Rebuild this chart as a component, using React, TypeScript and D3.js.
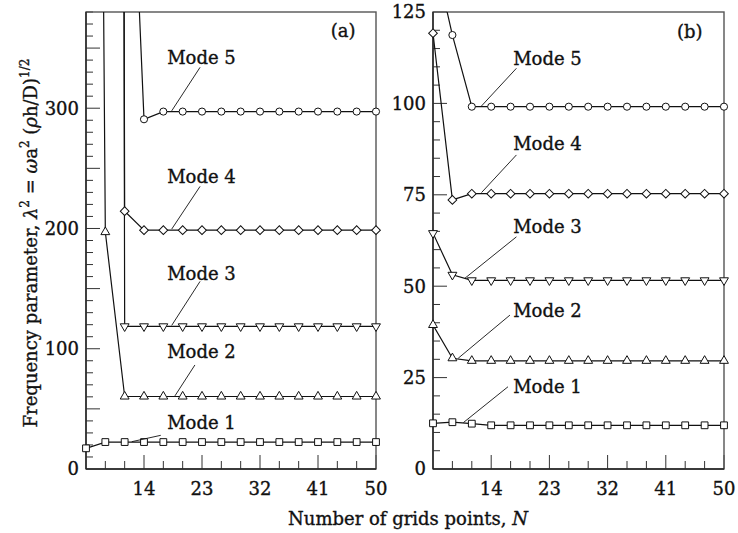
import React from 'react';
import * as d3 from 'd3';

// grid sizes N used in the convergence study
const N_POINTS = [5, 8, 11, 14, 17, 20, 23, 26, 29, 32, 35, 38, 41, 44, 47, 50];
const N_LABELS = [14, 23, 32, 41, 50];

// panel (a) (off-scale starts kept large)
const MODE1_A = [17.2, 22.4, 22.4, 22.4, 22.4, 22.4, 22.4, 22.4, 22.4, 22.4, 22.4, 22.4, 22.4, 22.4, 22.4, 22.4];
const MODE2_A = [2300, 197, 60.3, 60.3, 60.3, 60.3, 60.3, 60.3, 60.3, 60.3, 60.3, 60.3, 60.3, 60.3, 60.3, 60.3];
const MODE3_A = [null, 8000, 118.6, 118.6, 118.6, 118.6, 118.6, 118.6, 118.6, 118.6, 118.6, 118.6, 118.6, 118.6, 118.6, 118.6];
const MODE4_A = [null, 6500, 214.4, 198.6, 198.6, 198.6, 198.6, 198.6, 198.6, 198.6, 198.6, 198.6, 198.6, 198.6, 198.6, 198.6];
const MODE5_A = [null, null, 666, 290.8, 297.2, 297.2, 297.2, 297.2, 297.2, 297.2, 297.2, 297.2, 297.2, 297.2, 297.2, 297.2];

// panel (b)
const MODE1_B = [12.5, 12.8, 12.4, 11.95, 11.95, 11.95, 11.95, 11.95, 11.95, 11.95, 11.95, 11.95, 11.95, 11.95, 11.95, 11.95];
const MODE2_B = [39.4, 30.3, 29.6, 29.6, 29.6, 29.6, 29.6, 29.6, 29.6, 29.6, 29.6, 29.6, 29.6, 29.6, 29.6, 29.6];
const MODE3_B = [64.5, 53.1, 51.6, 51.6, 51.6, 51.6, 51.6, 51.6, 51.6, 51.6, 51.6, 51.6, 51.6, 51.6, 51.6, 51.6];
const MODE4_B = [119.2, 73.6, 75.3, 75.3, 75.3, 75.3, 75.3, 75.3, 75.3, 75.3, 75.3, 75.3, 75.3, 75.3, 75.3, 75.3];
const MODE5_B = [142, 118.7, 99.1, 99.1, 99.1, 99.1, 99.1, 99.1, 99.1, 99.1, 99.1, 99.1, 99.1, 99.1, 99.1, 99.1];

const Y_LABELS_A = [0, 100, 200, 300];
const Y_LABELS_B = [0, 25, 50, 75, 100, 125];

const MODE_NAMES = ['Mode 1', 'Mode 2', 'Mode 3', 'Mode 4', 'Mode 5'];
const MARKERS = ['square', 'triangle', 'triangleDown', 'diamond', 'circle'];

const FONT = '"DejaVu Serif", "Liberation Serif", serif';
const W = 738;
const H = 533;
const TOP = 12;
const BOTTOM = 469;

// heavier text, closer to the scanned schoolbook face
const TXT = { fontFamily: FONT, fontSize: 18, fill: '#111', stroke: '#111', strokeWidth: 0.35 };

type Callout = { tx: number; ty: number; x1: number; y1: number; x2: number; y2: number };

// callouts in data units: text anchor, then leader from/to
const CALLOUTS_A: Callout[] = [
  { tx: 17.6, ty: 33, x1: 16.6, y1: 28, x2: 12.1, y2: 22.7 },
  { tx: 17.6, ty: 92, x1: 21.9, y1: 86.5, x2: 18.8, y2: 60.8 },
  { tx: 17.6, ty: 157.5, x1: 22.7, y1: 156, x2: 18.3, y2: 119.4 },
  { tx: 17.6, ty: 237.5, x1: 22.7, y1: 235, x2: 18.3, y2: 199.5 },
  { tx: 17.6, ty: 336.7, x1: 22.7, y1: 334, x2: 18.3, y2: 297.8 },
];
const CALLOUTS_B: Callout[] = [
  { tx: 17.4, ty: 20.7, x1: 16.6, y1: 22.5, x2: 9.7, y2: 12.7 },
  { tx: 17.4, ty: 41.7, x1: 16.9, y1: 42.1, x2: 8.9, y2: 30.3 },
  { tx: 17.4, ty: 64.5, x1: 17.9, y1: 63.5, x2: 9.95, y2: 52.2 },
  { tx: 17.4, ty: 87.3, x1: 17.9, y1: 85.9, x2: 12.5, y2: 75.6 },
  { tx: 17.4, ty: 110.5, x1: 17.9, y1: 109.6, x2: 12.5, y2: 99.3 },
];

const markerPath = (kind: string) => {
  if (kind === 'circle') return d3.symbol(d3.symbolCircle, 40)()!;
  if (kind === 'square') return d3.symbol(d3.symbolSquare, 46)()!;
  if (kind === 'diamond') return d3.symbol(d3.symbolSquare, 38)()!;
  return d3.symbol(d3.symbolTriangle, 34)()!;
};
const markerRotate = (kind: string) =>
  kind === 'diamond' ? 45 : kind === 'triangleDown' ? 180 : 0;

type PanelProps = {
  id: string;
  left: number;
  right: number;
  yMax: number;
  minorStep: number;
  majorStep: number;
  yLabels: number[];
  series: (number | null)[][];
  callouts: Callout[];
  tag: string;
  tagPos: [number, number];
};

const Panel = ({ id, left, right, yMax, minorStep, majorStep, yLabels, series, callouts, tag, tagPos }: PanelProps) => {
  const x = d3.scaleLinear().domain([5, 50]).range([left, right]);
  const y = d3.scaleLinear().domain([0, yMax]).range([BOTTOM, TOP]);

  const line = d3
    .line<number | null>()
    .defined((d) => d !== null)
    .x((_, i) => x(N_POINTS[i]))
    .y((d) => y(d as number));

  const yTicks = d3.range(minorStep, yMax + 0.001, minorStep);
  const xTicks = N_POINTS.slice(1);

  return (
    <g>
      <defs>
        <clipPath id={`clip-${id}`}>
          <rect x={left} y={TOP} width={right - left} height={BOTTOM - TOP} />
        </clipPath>
      </defs>

      {/* ticks, inward */}
      {yTicks.map((t) => {
        const major = Math.abs(t / majorStep - Math.round(t / majorStep)) < 1e-6;
        return (
          <line key={`yt${t}`} x1={left} x2={left + (major ? 14 : 7)} y1={y(t)} y2={y(t)} stroke="#333" strokeWidth={1} />
        );
      })}
      {xTicks.map((t) => {
        const major = N_LABELS.includes(t);
        return (
          <line key={`xt${t}`} x1={x(t)} x2={x(t)} y1={BOTTOM} y2={BOTTOM - (major ? 14 : 8)} stroke="#333" strokeWidth={1} />
        );
      })}

      {/* frame */}
      <rect x={left} y={TOP} width={right - left} height={BOTTOM - TOP} fill="none" stroke="#555" strokeWidth={1.4} />
      <line x1={left} x2={left} y1={TOP} y2={BOTTOM} stroke="#222" strokeWidth={1.4} />
      <line x1={left} x2={right} y1={BOTTOM} y2={BOTTOM} stroke="#222" strokeWidth={1.4} />

      {/* tick labels */}
      {yLabels.map((t) => (
        <text key={`yl${t}`} x={left - 7} y={y(t)} dy="0.36em" textAnchor="end" {...TXT}>
          {t}
        </text>
      ))}
      {N_LABELS.map((t) => (
        <text key={`xl${t}`} x={x(t)} y={495} textAnchor="middle" {...TXT}>
          {t}
        </text>
      ))}

      {/* series */}
      <g clipPath={`url(#clip-${id})`}>
        {series.map((s, k) => (
          <path key={`s${k}`} d={line(s) || ''} fill="none" stroke="#111" strokeWidth={1.2} />
        ))}
      </g>
      {series.map((s, k) =>
        s.map((v, i) =>
          v === null || v > yMax ? null : (
            <path
              key={`m${k}-${i}`}
              d={markerPath(MARKERS[k])}
              transform={`translate(${x(N_POINTS[i])},${y(v)}) rotate(${markerRotate(MARKERS[k])})`}
              fill="#fff"
              stroke="#111"
              strokeWidth={1}
            />
          )
        )
      )}

      {/* mode callouts */}
      {callouts.map((c, k) => (
        <g key={`c${k}`}>
          <line x1={x(c.x1)} y1={y(c.y1)} x2={x(c.x2)} y2={y(c.y2)} stroke="#111" strokeWidth={0.9} />
          <text x={x(c.tx)} y={y(c.ty)} {...TXT}>
            {MODE_NAMES[k]}
          </text>
        </g>
      ))}

      <text x={x(tagPos[0])} y={y(tagPos[1])} textAnchor="middle" {...TXT}>
        {tag}
      </text>
    </g>
  );
};

export default function App() {
  return (
    <svg width={W} height={H} style={{ position: 'absolute', left: 0, top: 0, background: '#fff' }}>
      <rect width={W} height={H} fill="#fff" />
      <Panel
        id="a"
        left={86}
        right={376}
        yMax={380}
        minorStep={10}
        majorStep={50}
        yLabels={Y_LABELS_A}
        series={[MODE1_A, MODE2_A, MODE3_A, MODE4_A, MODE5_A]}
        callouts={CALLOUTS_A}
        tag="(a)"
        tagPos={[44.9, 359]}
      />
      <Panel
        id="b"
        left={433}
        right={724}
        yMax={125}
        minorStep={5}
        majorStep={25}
        yLabels={Y_LABELS_B}
        series={[MODE1_B, MODE2_B, MODE3_B, MODE4_B, MODE5_B]}
        callouts={CALLOUTS_B}
        tag="(b)"
        tagPos={[44.7, 118]}
      />

      <text x={408} y={525} textAnchor="middle" {...TXT}>
        Number of grids points, <tspan fontStyle="italic">N</tspan>
      </text>

      <text transform="translate(37,243) rotate(-90)" textAnchor="middle" {...TXT}>
        Frequency parameter, <tspan fontStyle="italic">λ</tspan>
        <tspan dy={-8} fontSize={12}>2</tspan>
        <tspan dy={8}> = </tspan>
        <tspan fontStyle="italic">ω</tspan>a
        <tspan dy={-8} fontSize={12}>2</tspan>
        <tspan dy={8}> (</tspan>
        <tspan fontStyle="italic">ρ</tspan>h/D)
        <tspan dy={-8} fontSize={12}>1/2</tspan>
      </text>
    </svg>
  );
}
